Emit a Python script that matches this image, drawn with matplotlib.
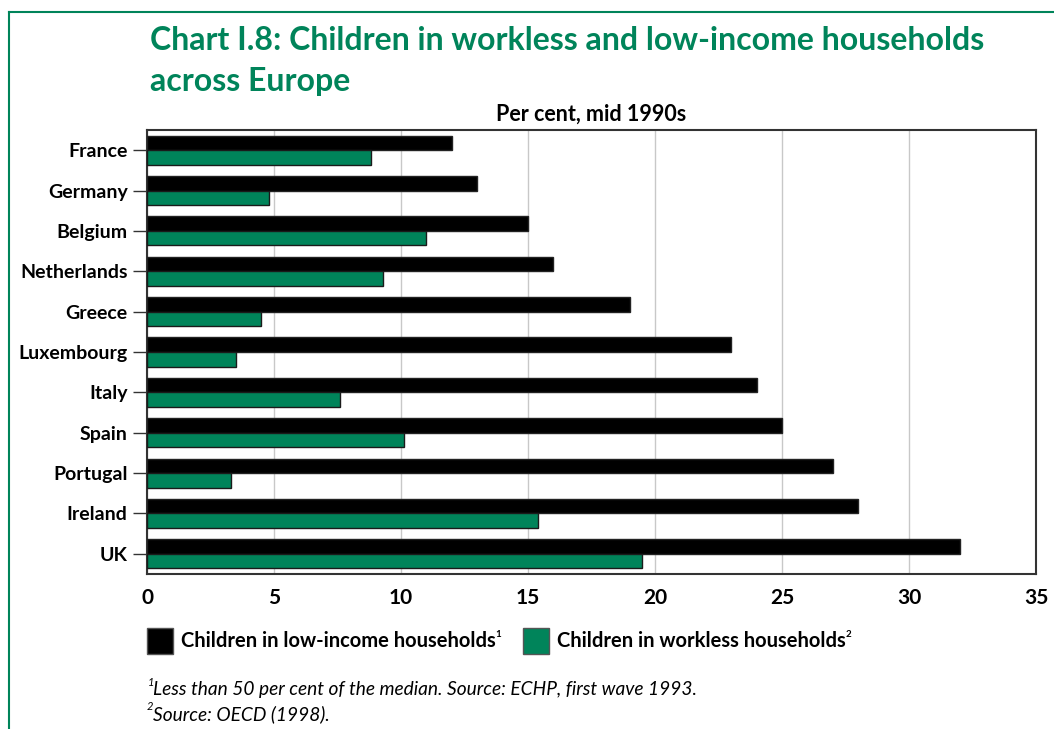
import numpy as np
import matplotlib
matplotlib.use("Agg")
from matplotlib import pyplot as plt
from matplotlib.lines import Line2D

plt.rcParams['font.family'] = ['Lato', 'DejaVu Sans']

countries = ["France", "Germany", "Belgium", "Netherlands", "Greece", "Luxembourg",
             "Italy", "Spain", "Portugal", "Ireland", "UK"]
low_income = [12.0, 13.0, 15.0, 16.0, 19.0, 23.0, 24.0, 25.0, 27.0, 28.0, 32.0]
workless = [8.8, 4.8, 11.0, 9.3, 4.5, 3.5, 7.6, 10.1, 3.3, 15.4, 19.5]
xticks = [0, 5, 10, 15, 20, 25, 30, 35]

green = "#00845a"
W, H = 1054, 729

fig = plt.figure(figsize=(W/100, H/100), dpi=100)
ax = fig.add_axes([147/W, 1-574/H, (1036-147)/W, (574-130)/H])

y = np.arange(len(countries))
h = 0.36
ax.barh(y - h/2, low_income, height=h, color="black", edgecolor="#222222", linewidth=1, zorder=3)
ax.barh(y + h/2, workless, height=h, color=green, edgecolor="#1a1a1a", linewidth=1, zorder=3)

ax.set_xlim(0, 35)
ax.set_ylim(len(countries) - 0.5, -0.5)
ax.set_xticks(xticks)
ax.set_xticklabels([str(t) for t in xticks], fontsize=15, fontweight="bold")
ax.set_yticks(y)
ax.set_yticklabels(countries, fontsize=14, fontweight="bold")
ax.tick_params(axis="y", length=10, width=1, pad=4, color="#333333")
ax.tick_params(axis="x", length=0, pad=10)
ax.grid(axis="x", color="#c8c8c8", linewidth=1, zorder=0)
for s in ax.spines.values():
    s.set_linewidth(1.5)
    s.set_color("#333333")

fig.text(150/W, 1-40/H, "Chart I.8: Children in workless and low-income households",
         fontsize=23, fontweight="bold", color=green, va="center", ha="left")
fig.text(150/W, 1-82/H, "across Europe",
         fontsize=23, fontweight="bold", color=green, va="center", ha="left")
fig.text(591/W, 1-114/H, "Per cent, mid 1990s", fontsize=15.5, fontweight="bold",
         va="center", ha="center")


def sup_after(txt, s, size):
    # small superscript tucked against the top right of a text
    fig.canvas.draw()
    bb = txt.get_window_extent()
    fig.text(bb.x1 / W, bb.y1 / H + 1/H, s, fontsize=size, fontweight="bold",
             va="top", ha="left")


# legend drawn by hand: swatch + label with superscript
def swatch(x0, color, label, sup):
    fig.add_artist(plt.Rectangle((x0/W, 1-654/H), 26/W, 26/H,
                                 facecolor=color, edgecolor="#555555", linewidth=1,
                                 transform=fig.transFigure))
    t = fig.text((x0+34)/W, 1-641/H, label,
                 fontsize=14.5, fontweight="bold", va="center", ha="left")
    sup_after(t, sup, 7)

swatch(147, "black", "Children in low-income households", "1")
swatch(523, green, "Children in workless households", "2")

fig.text(148/W, 1-682/H, "1", fontsize=8, fontstyle="italic", va="center", ha="left")
fig.text(153/W, 1-690/H, "Less than 50 per cent of the median. Source: ECHP, first wave 1993.",
         fontsize=13.8, fontstyle="italic", va="center", ha="left")
fig.text(147/W, 1-706/H, "2", fontsize=8, fontstyle="italic", va="center", ha="left")
fig.text(153/W, 1-714/H, "Source: OECD (1998).",
         fontsize=13.8, fontstyle="italic", va="center", ha="left")

# green frame round the chart
fig.add_artist(Line2D([9/W, 9/W], [0, 1-12/H], color=green, linewidth=1.5,
                      transform=fig.transFigure))
fig.add_artist(Line2D([9/W, 1], [1-12/H, 1-12/H], color=green, linewidth=1.5,
                      transform=fig.transFigure))

fig.savefig("out.png", dpi=100)
